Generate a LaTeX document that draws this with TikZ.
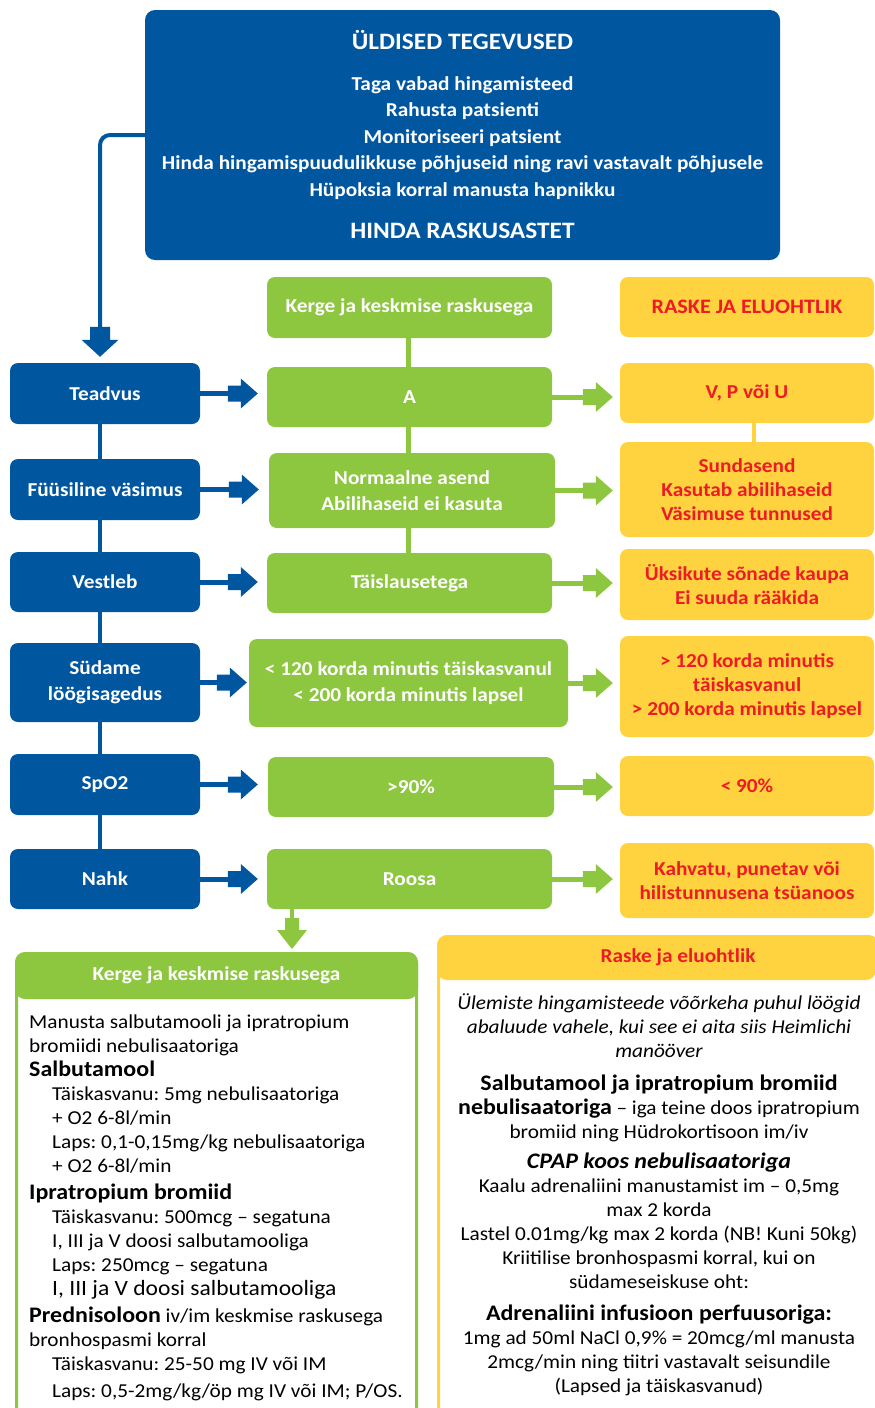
\documentclass[tikz,border=0pt]{standalone}
\usepackage{fontspec}
\setmainfont{Carlito}[FakeStretch=1.08]
\usetikzlibrary{calc,backgrounds}
\definecolor{nblue}{HTML}{0057A0}
\definecolor{ngreen}{HTML}{8DC63F}
\definecolor{nyellow}{HTML}{FFD23F}
\definecolor{nred}{HTML}{ED1C24}
\newcommand\fs[2]{\fontsize{#1}{#2}\selectfont}
\newcommand\indnt{\hspace*{23pt}}
\frenchspacing
% horizontal block arrow: source node, target node, colour, gap between tip and target
\newcommand\hblock[4]{%
  \path (#1.east -| #2.west) ++(-#4,0) coordinate (tip);
  \draw[#3, line width=5pt] (#1.east) -- ([xshift=-29pt]tip);
  \fill[#3] ([shift={(-30,-8)}]tip) -- ([shift={(-17,-8)}]tip) -- ([shift={(-17,-15)}]tip)
    -- (tip) -- ([shift={(-17,15)}]tip) -- ([shift={(-17,8)}]tip) -- ([shift={(-30,8)}]tip) -- cycle;
}
\begin{document}
\begin{tikzpicture}[x=1pt,y=-1pt,
  box/.style={rounded corners=8pt, inner sep=0pt, align=center, font=\bfseries\fs{19.7}{26}},
  bluebox/.style={box, fill=nblue, text=white, minimum width=190pt},
  greenbox/.style={box, fill=ngreen, text=white},
  yellowbox/.style={box, fill=nyellow, text=nred, minimum width=254pt, font=\bfseries\fs{19.7}{24}},
  plain/.style={inner sep=0pt, align=center},
]
\useasboundingbox (0,0) rectangle (875,1408);

% general actions
\node[box, fill=nblue, rounded corners=10pt, minimum width=635pt, minimum height=250pt] (top) at (462.5,135) {};
\node[plain, text=white, font=\bfseries\fs{23.5}{26}] (toptitle) at (462.5,40) {ÜLDISED TEGEVUSED};
\node[plain, text=white, font=\bfseries\fs{19.7}{26.5}] (topbody) at (462.5,138) {%
Taga vabad hingamisteed\\
Rahusta patsienti\\
Monitoriseeri patsient\\
Hinda hingamispuudulikkuse põhjuseid ning ravi vastavalt põhjusele\\
Hüpoksia korral manusta hapnikku};
\node[plain, text=white, font=\bfseries\fs{23.5}{26}] (topfoot) at (462.5,231) {HINDA RASKUSASTET};

% assessment criteria
\node[bluebox, minimum height=61pt] (teadvus) at (105,393.5) {Teadvus};
\node[bluebox, minimum height=61pt] (fuus) at (105,489.5) {Füüsiline väsimus};
\node[bluebox, minimum height=60pt] (vestleb) at (105,582) {Vestleb};
\node[bluebox, minimum height=79pt] (sydame) at (105,682.5) {Südame\\löögisagedus};
\node[bluebox, minimum height=61pt] (spo) at (105,784.5) {SpO2};
\node[bluebox, minimum height=60pt] (nahk) at (105,879) {Nahk};

% mild and moderate
\node[greenbox, minimum width=285pt, minimum height=61pt] (ghead) at (409.5,307.5) {Kerge ja keskmise raskusega};
\node[greenbox, minimum width=285pt, minimum height=60pt] (ga) at (409.5,397) {A};
\node[greenbox, minimum width=286pt, minimum height=75pt] (gnorm) at (412,490.5) {Normaalne asend\\Abilihaseid ei kasuta};
\node[greenbox, minimum width=285pt, minimum height=60pt] (gtais) at (409.5,583) {Täislausetega};
\node[greenbox, minimum width=319pt, minimum height=88pt] (gpulse) at (408.5,683) {< 120 korda minutis täiskasvanul\\< 200 korda minutis lapsel};
\node[greenbox, minimum width=286pt, minimum height=60pt] (gspo) at (411,787) {>90\%};
\node[greenbox, minimum width=285pt, minimum height=60pt] (groosa) at (409.5,879) {Roosa};

% severe
\node[yellowbox, minimum height=60pt, font=\bfseries\fs{20.5}{24}] (yhead) at (747,307) {RASKE JA ELUOHTLIK};
\node[yellowbox, minimum height=60pt] (yvp) at (747,393) {V, P või U};
\node[yellowbox, minimum height=95pt] (ysund) at (747,489.5) {Sundasend\\Kasutab abilihaseid\\Väsimuse tunnused};
\node[yellowbox, minimum height=71pt] (yuks) at (747,584.5) {Üksikute sõnade kaupa\\Ei suuda rääkida};
\node[yellowbox, minimum height=101pt] (ypulse) at (747,686.5) {> 120 korda minutis\\täiskasvanul\\> 200 korda minutis lapsel};
\node[yellowbox, minimum height=60pt] (yspo) at (747,786) {< 90\%};
\node[yellowbox, minimum height=75pt] (ynahk) at (747,880.5) {Kahvatu, punetav või\\hilistunnusena tsüanoos};

% connecting lines behind the boxes
\begin{scope}[on background layer]
  \draw[nblue, line width=4pt] ([xshift=-5pt]teadvus.center) -- ([xshift=-5pt]nahk.center);
  \draw[ngreen, line width=5pt] ([xshift=-1pt]ghead.center) -- ([xshift=-1pt]ga.center |- gtais.center);
  \draw[nyellow, line width=3.5pt] ([xshift=7pt]yvp.center) -- ([xshift=7pt]ysund.center);
\end{scope}

% from general actions down to the first criterion
\coordinate (tdtip) at ([xshift=-5pt, yshift=6pt]teadvus.north);
\draw[nblue, line width=4pt, rounded corners=10pt] (top.west) -| ([yshift=29pt]tdtip);
\fill[nblue] ([shift={(-10,-30)}]tdtip) -- ([shift={(10,-30)}]tdtip) -- ([shift={(10,-17)}]tdtip)
  -- ([shift={(18.5,-17)}]tdtip) -- (tdtip) -- ([shift={(-18.5,-17)}]tdtip) -- ([shift={(-10,-17)}]tdtip) -- cycle;

% criterion to finding arrows
\hblock{teadvus}{ga}{nblue}{9}
\hblock{fuus}{gnorm}{nblue}{10}
\hblock{vestleb}{gtais}{nblue}{9}
\hblock{sydame}{gpulse}{nblue}{2}
\hblock{spo}{gspo}{nblue}{10}
\hblock{nahk}{groosa}{nblue}{9}

\hblock{ga}{yvp}{ngreen}{7}
\hblock{gnorm}{ysund}{ngreen}{7}
\hblock{gtais}{yuks}{ngreen}{7}
\hblock{gpulse}{ypulse}{ngreen}{7}
\hblock{gspo}{yspo}{ngreen}{7}
\hblock{groosa}{ynahk}{ngreen}{7}

% treatment: mild and moderate
\node[draw=ngreen, line width=3pt, rounded corners=10pt, fill=white, inner sep=0pt,
      minimum width=400pt, minimum height=490pt] (lbox) at (216.5,1198.5) {};
\node[fill=ngreen, rounded corners=10pt, inner sep=0pt, minimum width=403pt, minimum height=47pt,
      text=white, font=\bfseries\fs{19.7}{24}] (lhead) at (216.5,975.5) {Kerge ja keskmise raskusega};
\node[plain, anchor=north west, align=left, font=\fs{19.7}{24}] (ltext) at (29,1015) {%
Manusta salbutamooli ja ipratropium\\
bromiidi nebulisaatoriga\\
{\bfseries\fs{22.2}{24}Salbutamool}\\
\indnt Täiskasvanu: 5mg nebulisaatoriga\\
\indnt + O2 6-8l/min\\
\indnt Laps: 0,1-0,15mg/kg nebulisaatoriga\\
\indnt + O2 6-8l/min\\[3pt]
{\bfseries\fs{22.2}{24}Ipratropium bromiid}\\
\indnt Täiskasvanu: 500mcg – segatuna\\
\indnt I, III ja V doosi salbutamooliga\\
\indnt Laps: 250mcg – segatuna\\
\indnt {\fs{21.8}{24}I, III ja V doosi salbutamooliga}\\[3pt]
{\bfseries\fs{22.2}{24}Prednisoloon} iv/im keskmise raskusega\\
bronhospasmi korral\\
\indnt Täiskasvanu: 25-50 mg IV või IM\\[3pt]
\indnt Laps: 0,5-2mg/kg/öp mg IV või IM; P/OS.};

% treatment: severe and life-threatening
\node[draw=nyellow, line width=3pt, rounded corners=10pt, fill=white, inner sep=0pt,
      minimum width=440pt, minimum height=500pt] (rbox) at (658.5,1186.5) {};
\node[fill=nyellow, rounded corners=10pt, inner sep=0pt, minimum width=439pt, minimum height=45pt] (rhead) at (656.5,957.5) {};
\node[plain, text=nred, font=\bfseries\fs{19.7}{24}] (rheadtext) at (678,957.5) {Raske ja eluohtlik};
\node[plain, anchor=north, font=\fs{19.7}{24}] (rtext) at (659,994) {%
{\itshape Ülemiste hingamisteede võõrkeha puhul löögid}\\
{\itshape abaluude vahele, kui see ei aita siis Heimlichi}\\
{\itshape manööver}\\[8.5pt]
{\bfseries\fs{22.2}{24}Salbutamool ja ipratropium bromiid}\\
{\bfseries\fs{22.2}{24}nebulisaatoriga} – iga teine doos ipratropium\\
bromiid ning Hüdrokortisoon im/iv\\[6pt]
{\bfseries\itshape\fs{22.2}{24}CPAP koos nebulisaatoriga}\\
Kaalu adrenaliini manustamist im – 0,5mg\\
max 2 korda\\
Lastel 0.01mg/kg max 2 korda (NB! Kuni 50kg)\\
Kriitilise bronhospasmi korral, kui on\\
südameseiskuse oht:\\[8pt]
{\bfseries\fs{22.2}{24}Adrenaliini infusioon perfuusoriga:}\\
1mg ad 50ml NaCl 0,9\% = 20mcg/ml manusta\\
2mcg/min ning tiitri vastavalt seisundile\\
(Lapsed ja täiskasvanud)};

% mild branch down to its treatment box
\coordinate (rtip) at (292,949);
\draw[ngreen, line width=4pt] (groosa.south -| rtip) -- ([yshift=20pt]rtip);
\fill[ngreen] ([shift={(-7,-31)}]rtip) -- ([shift={(7,-31)}]rtip) -- ([shift={(7,-19)}]rtip)
  -- ([shift={(15,-19)}]rtip) -- (rtip) -- ([shift={(-15,-19)}]rtip) -- ([shift={(-7,-19)}]rtip) -- cycle;
\end{tikzpicture}
\end{document}
